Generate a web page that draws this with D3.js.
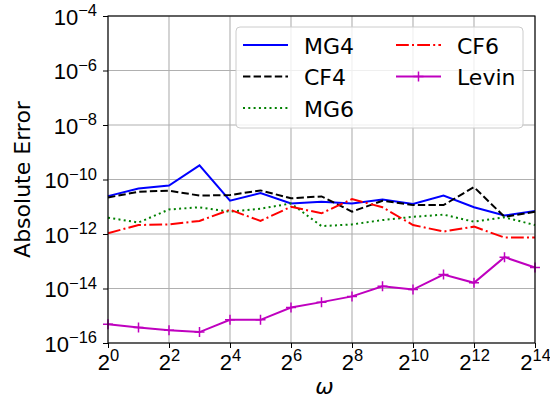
<!DOCTYPE html>
<html>
<head>
<meta charset="utf-8">
<script src="https://cdn.jsdelivr.net/npm/d3@7"></script>
<style>
  body { margin: 0; background: #fff; }
  svg { font-family: "DejaVu Sans", sans-serif; }
</style>
</head>
<body>
<svg id="chart"></svg>
<script>
// exponents of omega (omega = 2^k)
const omegaExp = [0, 1, 2, 3, 4, 5, 6, 7, 8, 9, 10, 11, 12, 13, 14];

// log10 of absolute error
const mg4   = [-10.61, -10.33, -10.22, -9.48, -10.78, -10.50, -10.88, -10.82, -10.88, -10.73, -10.90, -10.59, -11.02, -11.32, -11.16];
const cf4   = [-10.66, -10.45, -10.41, -10.59, -10.57, -10.40, -10.69, -10.62, -11.18, -10.78, -10.94, -10.94, -10.28, -11.37, -11.18];
const mg6   = [-11.40, -11.58, -11.10, -11.02, -11.18, -11.07, -10.88, -11.71, -11.65, -11.49, -11.37, -11.29, -11.55, -11.39, -11.67];
const cf6   = [-11.97, -11.67, -11.65, -11.52, -11.11, -11.52, -11.00, -11.24, -10.72, -11.02, -11.67, -11.91, -11.73, -12.13, -12.13];
const levin = [-15.31, -15.43, -15.53, -15.60, -15.15, -15.15, -14.70, -14.50, -14.29, -13.92, -14.04, -13.49, -13.79, -12.85, -13.23];

const xTickExp = [0, 2, 4, 6, 8, 10, 12, 14];
const yTickExp = [-16, -14, -12, -10, -8, -6, -4];

const series = [
  { name: 'MG4',   vals: mg4,   color: '#0000ff', dash: null },
  { name: 'CF4',   vals: cf4,   color: '#000000', dash: '7.4,3.2' },
  { name: 'MG6',   vals: mg6,   color: '#008000', dash: '2,3.3' },
  { name: 'CF6',   vals: cf6,   color: '#ff0000', dash: '12.8,3.2,2,3.2' },
  { name: 'Levin', vals: levin, color: '#bf00bf', dash: null, marker: true }
];

const width = 550, height = 400;
const margin = { top: 16, right: 15, bottom: 57, left: 108 };
const innerW = width - margin.left - margin.right;
const innerH = height - margin.top - margin.bottom;

const svg = d3.select('#chart').attr('width', width).attr('height', height);
const chart = svg.append('g').attr('transform', `translate(${margin.left},${margin.top})`);

const xscale = d3.scaleLog().base(2).domain([1, Math.pow(2, 14)]).range([0, innerW]);
const yscale = d3.scaleLog().domain([1e-16, 1e-4]).range([innerH, 0]);

// grid
chart.append('g').selectAll('line').data(xTickExp).join('line')
  .attr('x1', d => xscale(Math.pow(2, d))).attr('x2', d => xscale(Math.pow(2, d)))
  .attr('y1', 0).attr('y2', innerH)
  .attr('stroke', '#b0b0b0').attr('stroke-width', 1.1);
chart.append('g').selectAll('line').data(yTickExp).join('line')
  .attr('y1', d => yscale(Math.pow(10, d))).attr('y2', d => yscale(Math.pow(10, d)))
  .attr('x1', 0).attr('x2', innerW)
  .attr('stroke', '#b0b0b0').attr('stroke-width', 1.1);

// lines
const line = d3.line()
  .x((d, i) => xscale(Math.pow(2, omegaExp[i])))
  .y(d => yscale(Math.pow(10, d)));

series.forEach(s => {
  chart.append('path')
    .attr('d', line(s.vals))
    .attr('fill', 'none')
    .attr('stroke', s.color)
    .attr('stroke-width', 2)
    .attr('stroke-dasharray', s.dash);
  if (s.marker) {
    chart.append('g').selectAll('path').data(s.vals).join('path')
      .attr('transform', (d, i) => `translate(${xscale(Math.pow(2, omegaExp[i]))},${yscale(Math.pow(10, d))})`)
      .attr('d', 'M-5,0H5M0,-5V5')
      .attr('stroke', s.color).attr('stroke-width', 1.5).attr('fill', 'none');
  }
});

// axes
const xaxis = d3.axisBottom(xscale)
  .tickValues(xTickExp.map(e => Math.pow(2, e)))
  .tickSize(5).tickFormat(() => '');
const yaxis = d3.axisLeft(yscale)
  .tickValues(yTickExp.map(e => Math.pow(10, e)))
  .tickSize(5).tickFormat(() => '');

const xg = chart.append('g').attr('transform', `translate(0,${innerH})`).call(xaxis);
const yg = chart.append('g').call(yaxis);
[xg, yg].forEach(g => {
  g.select('.domain').remove();
  g.selectAll('.tick line').attr('stroke', '#000').attr('stroke-width', 1);
});

// superscript labels
xg.selectAll('.tick text').each(function(d, i) {
  const t = d3.select(this).attr('font-size', 22).attr('fill', '#000')
    .attr('text-anchor', 'middle').attr('y', 27).attr('dy', null);
  t.append('tspan').text('2');
  t.append('tspan').attr('font-size', 16.5).attr('dy', -9).text(xTickExp[i]);
});
yg.selectAll('.tick text').each(function(d, i) {
  const t = d3.select(this).attr('font-size', 22).attr('fill', '#000')
    .attr('text-anchor', 'end').attr('x', -11).attr('y', 8).attr('dy', null);
  t.append('tspan').text('10');
  t.append('tspan').attr('font-size', 16.5).attr('dy', -8.5).text('\u2212' + Math.abs(yTickExp[i]));
});

// frame
chart.append('rect')
  .attr('width', innerW).attr('height', innerH)
  .attr('fill', 'none').attr('stroke', '#000').attr('stroke-width', 1.1);

// axis labels
svg.append('text')
  .attr('x', margin.left + innerW / 2 + 3).attr('y', 394)
  .attr('text-anchor', 'middle').attr('font-size', 22)
  .attr('font-style', 'italic')
  .text('\u03c9');
svg.append('text')
  .attr('transform', `translate(30,${margin.top + innerH / 2}) rotate(-90)`)
  .attr('text-anchor', 'middle').attr('font-size', 22)
  .text('Absolute Error');

// legend
const legend = svg.append('g');
legend.append('rect')
  .attr('x', 236).attr('y', 27).attr('width', 287).attr('height', 101)
  .attr('rx', 4)
  .attr('fill', 'rgba(255,255,255,0.8)')
  .attr('stroke', '#cccccc').attr('stroke-width', 1);

const legendPos = [[243, 45], [243, 76.5], [243, 108], [396, 45], [396, 76.5]];
series.forEach((s, i) => {
  const [lx, ly] = legendPos[i];
  legend.append('line')
    .attr('x1', lx).attr('x2', lx + 45).attr('y1', ly).attr('y2', ly)
    .attr('stroke', s.color).attr('stroke-width', 2)
    .attr('stroke-dasharray', s.dash);
  if (s.marker) {
    legend.append('path')
      .attr('transform', `translate(${lx + 22.5},${ly})`)
      .attr('d', 'M-5,0H5M0,-5V5')
      .attr('stroke', s.color).attr('stroke-width', 1.5);
  }
  legend.append('text')
    .attr('x', lx + 61).attr('y', ly + 8.5)
    .attr('font-size', 22)
    .text(s.name);
});
</script>
</body>
</html>
